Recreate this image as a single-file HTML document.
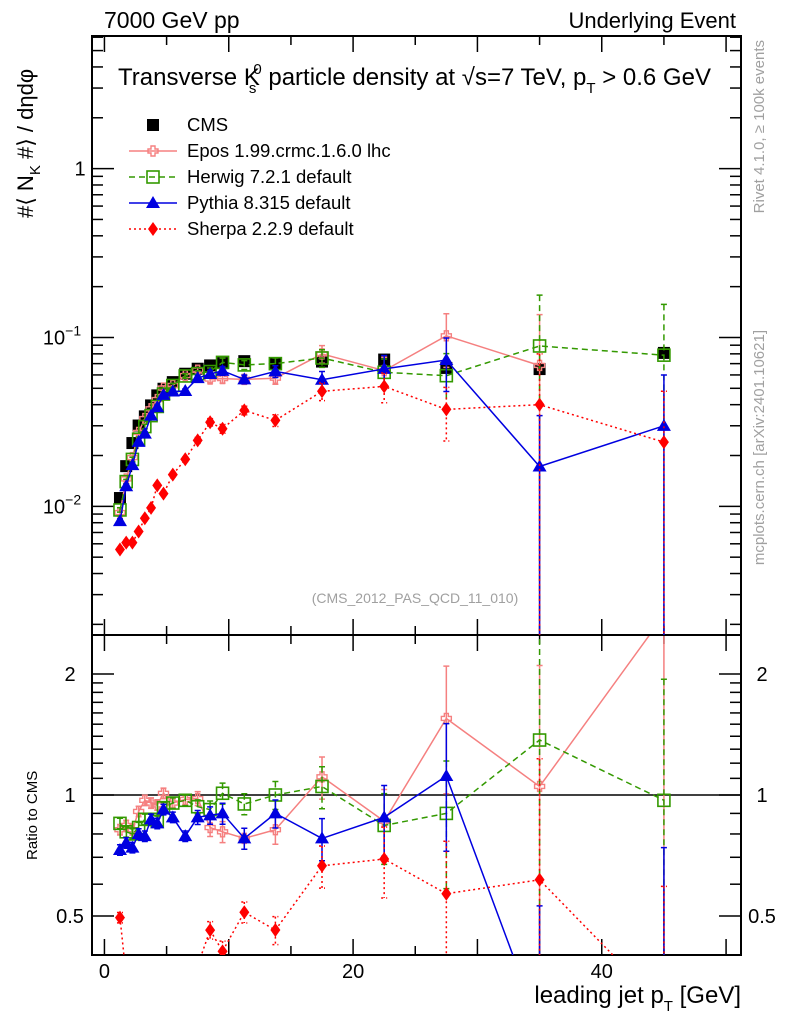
<!DOCTYPE html>
<html><head><meta charset="utf-8"><style>
html,body{margin:0;padding:0;background:#fff;overflow:hidden;width:786px;height:1024px;}
svg{display:block;}
svg text{font-family:"Liberation Sans",sans-serif;}
</style></head><body>
<svg id="chart" width="786" height="1024" viewBox="0 0 786 1024" xmlns="http://www.w3.org/2000/svg">
<defs>
<clipPath id="clipMain"><rect x="92" y="36" width="649" height="599"/></clipPath>
<clipPath id="clipRatio"><rect x="92" y="636" width="649" height="319"/></clipPath>
</defs>
<g id="axes"></g>
<g id="marks"></g>
<text x="104" y="28" font-size="23">7000 GeV pp</text>
<text x="736" y="28" font-size="22" text-anchor="end">Underlying Event</text>
<text x="118" y="85" font-size="24">Transverse K<tspan dy="8" font-size="15" dx="-11">s</tspan><tspan dy="-19" font-size="15" dx="-3">0</tspan><tspan dy="11"> particle density at √s=7 TeV, p</tspan><tspan dy="8" font-size="15">T</tspan><tspan dy="-8"> &gt; 0.6 GeV</tspan></text>
<text x="415" y="603" font-size="14" fill="#a0a0a0" text-anchor="middle">(CMS_2012_PAS_QCD_11_010)</text>
<text transform="translate(764,40) rotate(-90)" font-size="15" fill="#a0a0a0" text-anchor="end">Rivet 4.1.0, ≥ 100k events</text>
<text transform="translate(764,330) rotate(-90)" font-size="15" fill="#a0a0a0" text-anchor="end">mcplots.cern.ch [arXiv:2401.10621]</text>
<text transform="translate(33,218) rotate(-90)" font-size="22">#⟨ N<tspan dy="7" font-size="15">K</tspan><tspan dy="-7"> #⟩ / dηdφ</tspan></text>
<text transform="translate(37,860) rotate(-90)" font-size="15">Ratio to CMS</text>
<text x="741" y="1003" font-size="24" text-anchor="end">leading jet p<tspan dy="8" font-size="15">T</tspan><tspan dy="-8"> [GeV]</tspan></text>
<g id="legend"></g>
</svg>
<script>
const xs = [1.25,1.75,2.25,2.75,3.25,3.75,4.25,4.75,5.5,6.5,7.5,8.5,9.5,11.25,13.75,17.5,22.5,27.5,35,45];
const cms = [0.0112,0.0173,0.0237,0.0301,0.0341,0.0396,0.0454,0.0497,0.0544,0.061,0.0653,0.0683,0.0705,0.0724,0.070,0.072,0.074,0.066,0.065,0.081];
const eposRatio = [0.82,0.84,0.82,0.91,0.97,0.955,0.945,1.01,0.955,0.975,0.98,0.83,0.81,0.78,0.82,1.11,0.86,1.55,1.05,null];
const herwigRatio = [0.85,0.81,0.80,0.83,0.87,0.87,0.86,0.93,0.955,0.97,0.935,0.92,1.01,0.95,1.0,1.05,0.84,0.90,1.37,0.97];
const pythiaRatio = [0.73,0.76,0.74,0.80,0.79,0.87,0.85,0.92,0.88,0.79,0.88,0.89,0.90,0.78,0.90,0.78,0.88,1.115,0.265,0.37];
const sherpa = [0.00555,0.0061,0.0061,0.0071,0.0085,0.0098,0.0133,0.0119,0.0154,0.019,0.0246,0.0315,0.0288,0.037,0.0323,0.048,0.0513,0.0375,0.040,0.024];
const relErr = [0.03,0.03,0.03,0.03,0.03,0.03,0.03,0.03,0.03,0.03,0.04,0.05,0.06,0.06,0.08,0.12,0.2,0.35,1.0,1.0];
const xTicks = [0,20,40];
const ratioTicks = [0.5,1,2];

const S = 'http://www.w3.org/2000/svg';
const axes = document.getElementById('axes'), marks = document.getElementById('marks');
const X0=92,X1=741,MT=36,MB=635,RT=635,RB=955;
const xmin=-1.0,xmax=51.2;
const X = v => X0 + (v - xmin) / (xmax - xmin) * (X1 - X0);
const lmin=Math.log10(0.00173), lmax=Math.log10(6.1);
const YM = v => MB - (Math.log10(v) - lmin) / (lmax - lmin) * (MB - MT);
const rmin=Math.log10(0.4), rmax=Math.log10(2.5);
const YR = v => RB - (Math.log10(v) - rmin) / (rmax - rmin) * (RB - RT);
function el(tag, attrs, parent){const e=document.createElementNS(S,tag);for(const k in attrs)e.setAttribute(k,attrs[k]);(parent||marks).appendChild(e);return e;}

let f1=el('rect',{x:X0,y:MT,width:X1-X0,height:MB-MT,fill:'none',stroke:'#000','stroke-width':2},axes);


let f2=el('rect',{x:X0,y:RT,width:X1-X0,height:RB-RT,fill:'none',stroke:'#000','stroke-width':2},axes);


for(let v=0;v<=50;v+=5){
  const L = v%10===0?16:9; const x=X(v);
  [[MB,MB-L],[MT,MT+L],[RB,RB-L],[RT,RT+L]].forEach(p=>{
    const t=el('line',{x1:x,x2:x,y1:p[0],y2:p[1],stroke:'#000','stroke-width':1.5},axes);
    
    
  });
}
xTicks.forEach(v=>{
  const t=el('text',{x:X(v),y:978,'font-size':20,'text-anchor':'middle'},axes);t.textContent=v;
  
  
});
for(let d=-3;d<=0;d++){for(let m=1;m<=9;m++){
  const v=m*Math.pow(10,d); if(v<0.00173||v>6.1)continue; const y=YM(v); const L=m===1?22:11;
  [[X0,X0+L],[X1,X1-L]].forEach(p=>{
    const t=el('line',{x1:p[0],x2:p[1],y1:y,y2:y,stroke:'#000','stroke-width':1.5},axes);
    
    
  });
}}
[[0.01,'10','−2'],[0.1,'10','−1'],[1,'1','']].forEach(a=>{
  const t=el('text',{x:a[2]?62:80,y:YM(a[0])+7,'font-size':20,'text-anchor':'middle'},axes);
  t.textContent=a[1];
  if(a[2]){const s=el('tspan',{dy:-9,'font-size':14},t);s.textContent=a[2];}
  
  
});
[0.4,0.5,0.6,0.7,0.8,0.9,1,1.1,1.2,1.3,1.4,1.5,1.6,1.7,1.8,1.9,2,2.5].forEach(v=>{
  const y=YR(v); const L=ratioTicks.includes(v)?22:11;
  [[X0,X0+L],[X1,X1-L]].forEach(p=>{
    const t=el('line',{x1:p[0],x2:p[1],y1:y,y2:y,stroke:'#000','stroke-width':1.5},axes);
    
    
  });
});
ratioTicks.forEach(v=>{
  [70,762].forEach(px=>{
    const t=el('text',{x:px,y:YR(v)+7,'font-size':20,'text-anchor':'middle'},axes);t.textContent=v;
    
    
  });
});
const one=el('line',{x1:X0,x2:X1,y1:YR(1),y2:YR(1),stroke:'#000','stroke-width':1.5},axes);



function marker(g,type,x,y,c){
  if(type==='sq') return el('rect',{x:x-6,y:y-6,width:12,height:12,fill:'#000'},g);
  if(type==='osq') return el('rect',{x:x-6,y:y-6,width:12,height:12,fill:'none',stroke:c,'stroke-width':1.6},g);
  if(type==='cross') return el('path',{d:`M${x-2},${y-5}h4v3h3v4h-3v3h-4v-3h-3v-4h3z`,fill:'none',stroke:c,'stroke-width':1.4},g);
  if(type==='tri') return el('polygon',{points:`${x},${y-7} ${x+7},${y+5} ${x-7},${y+5}`,fill:c},g);
  if(type==='dia') return el('polygon',{points:`${x},${y-7} ${x+5},${y} ${x},${y+7} ${x-5},${y}`,fill:c},g);
}
function series(name,vals,ratios,color,dash,type){
  ['main','ratio'].forEach(panel=>{
    const arr = panel==='main'?vals:ratios; const Y = panel==='main'?YM:YR;
    const g=el('g',{'clip-path':`url(#${panel==='main'?'clipMain':'clipRatio'})`});
    
    
    if(color){
      let d='';arr.forEach((v,i)=>{if(v==null)return;d+=(d?'L':'M')+X(xs[i]).toFixed(1)+','+Y(v).toFixed(1);});
      const p=el('path',{d:d,fill:'none',stroke:color,'stroke-width':1.5,'stroke-dasharray':dash},g);
      
      
    }
    arr.forEach((v,i)=>{
      if(v==null)return;
      if(color){
        const e=relErr[i]; const hi=v*(1+e), lo=Math.max(v*(1-e),1e-5);
        const x=X(xs[i]);
        const eb=el('path',{d:`M${x},${Y(hi)}V${Y(lo)}M${x-3},${Y(hi)}h6M${x-3},${Y(lo)}h6`,stroke:color,'stroke-width':1.5,'stroke-dasharray':dash,fill:'none'},g);
        
        
      }
      const m=marker(g,type,X(xs[i]),Y(v),color);
      
      
    });
  });
}
const cmsR = cms.map(()=>null);
series('cms',cms,cmsR,null,'','sq');
const epos = eposRatio.map((r,i)=>r==null?null:r*cms[i]);
const eposR = eposRatio.slice(); eposR[19]=2.8;
series('epos',epos,eposR,'#f58080','','cross');
series('herwig',herwigRatio.map((r,i)=>r*cms[i]),herwigRatio,'#339900','6,4','osq');
series('pythia',pythiaRatio.map((r,i)=>r*cms[i]),pythiaRatio,'#0000e0','','tri');
series('sherpa',sherpa,sherpa.map((v,i)=>v/cms[i]),'#ff0000','2,3','dia');

const lg=document.getElementById('legend');
const items=[['CMS',null,'','sq'],['Epos 1.99.crmc.1.6.0 lhc','#f58080','','cross'],['Herwig 7.2.1 default','#339900','6,4','osq'],['Pythia 8.315 default','#0000e0','','tri'],['Sherpa 2.2.9 default','#ff0000','2,3','dia']];
items.forEach((it,i)=>{
  const y=125+i*26;
  const g=el('g',{},lg);
  
  
  if(it[1]) el('line',{x1:129,x2:177,y1:y,y2:y,stroke:it[1],'stroke-width':1.5,'stroke-dasharray':it[2]},g);
  marker(g,it[3],153,y,it[1]);
  const t=el('text',{x:187,y:y+6,'font-size':18.5},g);t.textContent=it[0];
});
</script>
</body></html>
